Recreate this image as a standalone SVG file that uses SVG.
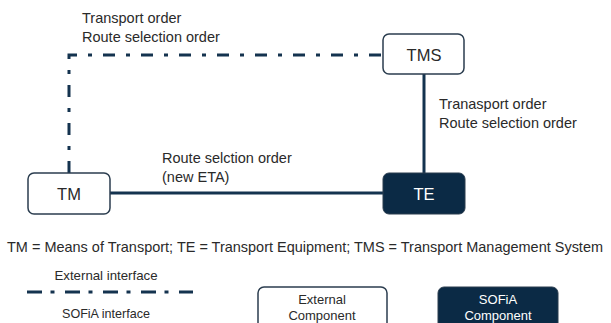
<svg xmlns="http://www.w3.org/2000/svg" width="611" height="323" viewBox="0 0 611 323">
<style>
  text { font-family: "Liberation Sans", Arial, sans-serif; fill: #2a2a2a; }
  .lbl { font-size: 14.5px; }
  .node { font-size: 16.5px; text-anchor: middle; }
  .leg { font-size: 13px; text-anchor: middle; }
  .ext { fill: #ffffff; stroke: #2b3d4f; stroke-width: 1.5; }
  .sof { fill: #0b2a45; stroke: #2b3d4f; stroke-width: 1; }
  .dd { fill: none; stroke: #14334f; stroke-width: 3; stroke-dasharray: 12 11 4 11; }
  .solid { fill: none; stroke: #14334f; stroke-width: 3; }
</style>
<rect width="611" height="323" fill="#ffffff"/>
<g id="connectors">
  <path class="dd" d="M69,173 V55 H383"/>
  <path class="solid" d="M424,74 V173"/>
  <path class="solid" d="M110,193 H383"/>
</g>
<g id="labels">
  <text class="lbl" x="82" y="23">Transport order</text>
  <text class="lbl" x="82" y="42">Route selection order</text>
  <text class="lbl" x="439" y="109">Tranasport order</text>
  <text class="lbl" x="439" y="128">Route selection order</text>
  <text class="lbl" x="162" y="163">Route selction order</text>
  <text class="lbl" x="162" y="182">(new ETA)</text>
</g>
<g id="TM">
  <rect class="ext" x="28" y="173" width="82" height="41" rx="6"/>
  <text class="node" x="69" y="200">TM</text>
</g>
<g id="TMS">
  <rect class="ext" x="383" y="34" width="81" height="40" rx="6"/>
  <text class="node" x="424" y="61">TMS</text>
</g>
<g id="TE">
  <rect class="sof" x="383" y="173" width="82" height="41" rx="6"/>
  <text class="node" x="424" y="200" style="fill:#ffffff">TE</text>
</g>
<text class="lbl" x="305" y="252" text-anchor="middle" textLength="596" lengthAdjust="spacingAndGlyphs">TM = Means of Transport; TE = Transport Equipment; TMS = Transport Management System</text>
<g id="legend">
  <text class="leg" x="106" y="280" textLength="103" lengthAdjust="spacingAndGlyphs">External interface</text>
  <path d="M27,292 H193" fill="none" stroke="#14334f" stroke-width="3" stroke-dasharray="15 8.5 4 10.5"/>
  <text class="leg" x="106" y="318" textLength="88" lengthAdjust="spacingAndGlyphs">SOFiA interface</text>
  <g id="legend-external">
    <rect class="ext" x="258" y="287" width="129" height="50" rx="6"/>
    <text class="leg" x="322" y="304">External</text>
    <text class="leg" x="322" y="320">Component</text>
  </g>
  <g id="legend-sofia">
    <rect class="sof" x="438" y="287" width="120" height="50" rx="6"/>
    <text class="leg" x="498" y="304" style="fill:#ffffff">SOFiA</text>
    <text class="leg" x="498" y="320" style="fill:#ffffff">Component</text>
  </g>
</g>
</svg>
